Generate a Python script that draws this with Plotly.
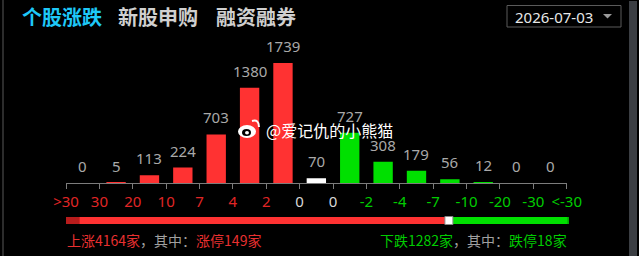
import plotly.graph_objects as go

# ---------------- data ----------------
tick_labels = [">30", "30", "20", "10", "7", "4", "2", "0", "0",
               "-2", "-4", "-7", "-10", "-20", "-30", "<-30"]
bar_values = [0, 5, 113, 224, 703, 1380, 1739, 70, 727, 308, 179, 56, 12, 0, 0]
bar_kind = ["up"] * 7 + ["flat"] + ["down"] * 7
limit_up = 149
limit_down = 18
tabs = ["个股涨跌", "新股申购", "融资融券"]
date_label = "2026-07-03"
watermark = "@爱记仇的小熊猫"

up_total = sum(v for v, k in zip(bar_values, bar_kind) if k == "up")
down_total = sum(v for v, k in zip(bar_values, bar_kind) if k == "down")
flat_total = sum(v for v, k in zip(bar_values, bar_kind) if k == "flat")

# ---------------- styling ----------------
W, H = 639, 256
RED = "#ff3232"
GREEN = "#00e000"
kind_color = {"up": RED, "flat": "#ffffff", "down": GREEN}
label_color = {"up": "#e02626", "flat": "#d8d8d8", "down": "#00cc00"}
FONT = "Noto Sans CJK SC"


def px_x(p):
    return p / W


def px_y(p):
    return (H - p) / H


# tick label colours: boundaries between bars
tick_kinds = ["up"] * 7 + ["flat"] * 2 + ["down"] * 7
ticktext = [f'<span style="color:{label_color[k]}">{t}</span>'
            for t, k in zip(tick_labels, tick_kinds)]
tickvals = [i - 0.5 for i in range(len(tick_labels))]

xs = list(range(len(bar_values)))
fig = go.Figure()
fig.add_trace(go.Bar(
    x=xs, y=bar_values,
    marker=dict(color=[kind_color[k] for k in bar_kind], line=dict(width=0)),
    width=0.58, hoverinfo="skip",
))

ymax = max(bar_values) * 140 / 120

annotations = []
for x, v in zip(xs, bar_values):
    annotations.append(dict(
        x=x, y=v, xref="x", yref="y", text=str(v), showarrow=False,
        yanchor="bottom", yshift=5,
        font=dict(family="Noto Sans", size=15, color="#a9a9a9"),
    ))

# tabs
tab_x = [20, 116, 214]
tab_col = ["#1ec8f8", "#d0d0d0", "#d0d0d0"]
for t, x, c in zip(tabs, tab_x, tab_col):
    annotations.append(dict(
        x=px_x(x), y=px_y(16.5), xref="paper", yref="paper",
        xanchor="left", yanchor="middle", showarrow=False,
        text=f"<b>{t}</b>", font=dict(family=FONT, size=20, color=c),
    ))

# date
annotations.append(dict(
    x=px_x(513), y=px_y(16.5), xref="paper", yref="paper",
    xanchor="left", yanchor="middle", showarrow=False,
    text=date_label, font=dict(family="Noto Sans", size=15, color="#e8e8e8"),
))

# watermark
annotations.append(dict(
    x=px_x(264), y=px_y(130), xref="paper", yref="paper",
    xanchor="left", yanchor="middle", showarrow=False,
    text=watermark, font=dict(family=FONT, size=16, color="#ffffff"),
))

# bottom texts
GRAY = "#a0a0a0"
TRED = "#e83030"
TGREEN = "#00cc00"
left_txt = (f'<span style="color:{TRED}">上涨{up_total}家</span>'
            f'<span style="color:{GRAY}">，其中：</span>'
            f'<span style="color:{TRED}">涨停{limit_up}家</span>')
right_txt = (f'<span style="color:{TGREEN}">下跌{down_total}家</span>'
             f'<span style="color:{GRAY}">，其中：</span>'
             f'<span style="color:{TGREEN}">跌停{limit_down}家</span>')
annotations.append(dict(
    x=px_x(65), y=px_y(240), xref="paper", yref="paper",
    xanchor="left", yanchor="middle", showarrow=False,
    text=left_txt, font=dict(family=FONT, size=14),
))
annotations.append(dict(
    x=px_x(569), y=px_y(240), xref="paper", yref="paper",
    xanchor="right", yanchor="middle", showarrow=False,
    text=right_txt, font=dict(family=FONT, size=14),
))

# ---------------- shapes ----------------
shapes = []
# left border line & right scrollbar
shapes.append(dict(type="rect", xref="paper", yref="paper",
                   x0=px_x(2), x1=px_x(4), y0=0, y1=1,
                   fillcolor="#2c2c2c", line=dict(width=0), layer="below"))
shapes.append(dict(type="rect", xref="paper", yref="paper",
                   x0=px_x(629), x1=px_x(637), y0=0, y1=px_y(1),
                   fillcolor="#3b3e43", line=dict(width=0)))
# date box
shapes.append(dict(type="rect", xref="paper", yref="paper",
                   x0=px_x(507), x1=px_x(621), y0=px_y(27), y1=px_y(5.5),
                   fillcolor="rgba(0,0,0,0)", line=dict(color="#5a5a5a", width=1)))
shapes.append(dict(type="path", xref="paper", yref="paper",
                   path=f"M {px_x(603)} {px_y(14)} L {px_x(612)} {px_y(14)} "
                        f"L {px_x(607.5)} {px_y(18.5)} Z",
                   fillcolor="#9a9a9a", line=dict(width=0)))
# weibo logo (approx.)
shapes.append(dict(type="circle", xref="paper", yref="paper",
                   x0=px_x(238), x1=px_x(256), y0=px_y(138), y1=px_y(125),
                   fillcolor="#ffffff", line=dict(width=0)))
shapes.append(dict(type="circle", xref="paper", yref="paper",
                   x0=px_x(242), x1=px_x(251), y0=px_y(136), y1=px_y(129),
                   fillcolor="#000000", line=dict(width=0)))
shapes.append(dict(type="circle", xref="paper", yref="paper",
                   x0=px_x(245), x1=px_x(249), y0=px_y(134.5), y1=px_y(131),
                   fillcolor="#ffffff", line=dict(width=0)))
shapes.append(dict(type="path", xref="paper", yref="paper",
                   path=f"M {px_x(252)} {px_y(121)} Q {px_x(259)} {px_y(119)} {px_x(259)} {px_y(127)}",
                   line=dict(color="#ffffff", width=2)))

# proportion bar
bx0, bx1 = 66, 569
by0, by1 = 217, 224
total = up_total + flat_total + down_total
span = bx1 - bx0
x_up = bx0 + span * up_total / total
x_flat = bx0 + span * (up_total + flat_total) / total
x_lu = bx0 + span * limit_up / total
x_ld = bx1 - span * limit_down / total


def rect(x0, x1, color, y0=by0, y1=by1, line=None):
    return dict(type="rect", xref="paper", yref="paper",
                x0=px_x(x0), x1=px_x(x1), y0=px_y(y1), y1=px_y(y0),
                fillcolor=color, line=line or dict(width=0))


shapes.append(rect(bx0, x_up, RED))
shapes.append(rect(bx0, x_lu, "#b81c1c"))
shapes.append(rect(x_flat, bx1, GREEN))
shapes.append(rect(x_ld, bx1, "#00a800"))
mid = (x_up + x_flat) / 2
shapes.append(rect(mid - 4, mid + 4, "#ffffff", by0 - 0.5, by1 + 0.5,
                   line=dict(color="#888888", width=1)))

fig.update_layout(
    width=W, height=H,
    autosize=False,
    margin=dict(l=0, r=0, t=0, b=0, pad=0),
    paper_bgcolor="#000000", plot_bgcolor="#000000",
    showlegend=False,
    xaxis=dict(
        domain=[px_x(66), px_x(566.7)], range=[-0.5, len(bar_values) - 0.5],
        tickmode="array", tickvals=tickvals, ticktext=ticktext,
        showline=True, linecolor="#7c7c7c", linewidth=1,
        ticks="outside", ticklen=5, tickcolor="#7c7c7c", tickwidth=1,
        showgrid=False, zeroline=False, fixedrange=True, automargin=False,
        tickfont=dict(family="Noto Sans", size=15),
    ),
    yaxis=dict(
        domain=[px_y(183), px_y(43)], range=[0, ymax],
        visible=False, fixedrange=True, automargin=False,
    ),
    annotations=annotations,
    shapes=shapes,
)

fig.write_html(
    "out.html",
    config={"responsive": False, "displayModeBar": False},
    post_script="document.body.style.margin='0';document.body.style.overflow='hidden';",
)
